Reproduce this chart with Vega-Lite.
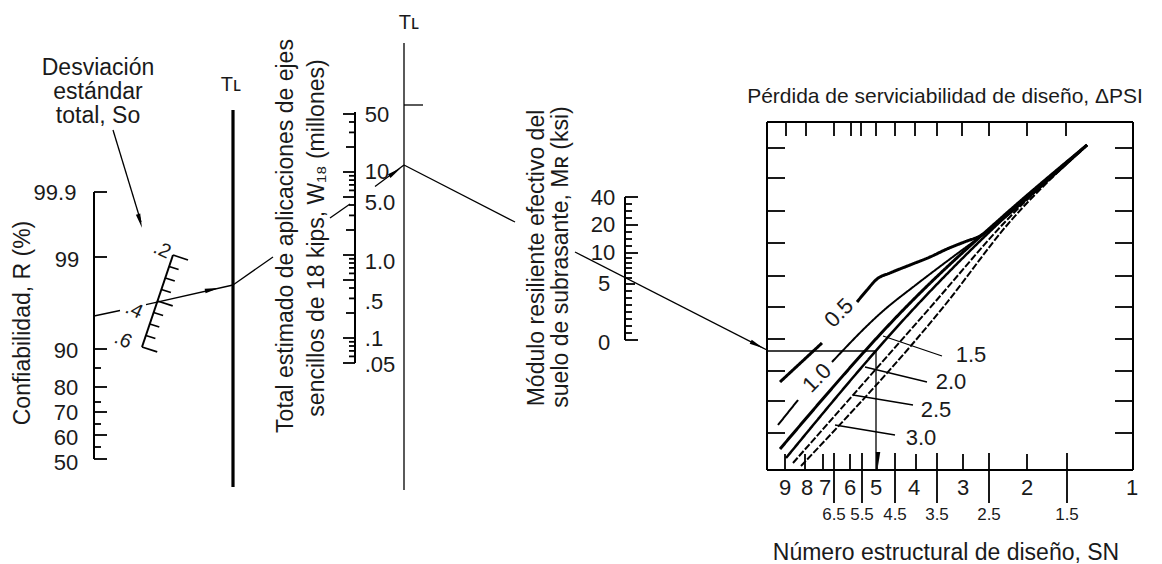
{
"$schema": "https://vega.github.io/schema/vega-lite/v6.json",
"width": 1162, "height": 564, "padding": 0, "autosize": "none", "background": "white",
"config": {"view": {"stroke": null}, "text": {"font": "Liberation Sans", "color": "#1a1a1a"}},
"datasets": {
"segs": [
{"k":"heavy","x":233,"y":110,"x2":233,"y2":487},
{"k":"axis","x":94,"y":192,"x2":94,"y2":459},
{"k":"tick","x":94,"y":192,"x2":107,"y2":192},
{"k":"tick","x":94,"y":257,"x2":107,"y2":257},
{"k":"tick","x":94,"y":349,"x2":107,"y2":349},
{"k":"tick","x":94,"y":368,"x2":101,"y2":368},
{"k":"tick","x":94,"y":387,"x2":107,"y2":387},
{"k":"tick","x":94,"y":402,"x2":101,"y2":402},
{"k":"tick","x":94,"y":412,"x2":107,"y2":412},
{"k":"tick","x":94,"y":424,"x2":101,"y2":424},
{"k":"tick","x":94,"y":435,"x2":107,"y2":435},
{"k":"tick","x":94,"y":447,"x2":101,"y2":447},
{"k":"tick","x":94,"y":459,"x2":107,"y2":459},
{"k":"axis","x":173,"y":255,"x2":142,"y2":347},
{"k":"tick","x":173,"y":255,"x2":188,"y2":260},
{"k":"tick","x":169.1,"y":266.5,"x2":178.6,"y2":269.5},
{"k":"tick","x":165.3,"y":278,"x2":174.8,"y2":281},
{"k":"tick","x":161.4,"y":289.5,"x2":170.9,"y2":292.5},
{"k":"tick","x":157.5,"y":301,"x2":172.7,"y2":305.8},
{"k":"tick","x":153.6,"y":312.5,"x2":163.1,"y2":315.5},
{"k":"tick","x":149.8,"y":324,"x2":159.3,"y2":327},
{"k":"tick","x":145.9,"y":335.5,"x2":155.4,"y2":338.5},
{"k":"tick","x":142,"y":347,"x2":157.2,"y2":351.8},
{"k":"axis","x":355,"y":112,"x2":355,"y2":363},
{"k":"tick","x":343,"y":114,"x2":355,"y2":114},
{"k":"tick","x":349,"y":122,"x2":355,"y2":122},
{"k":"tick","x":349,"y":132.4,"x2":355,"y2":132.4},
{"k":"tick","x":346,"y":147,"x2":355,"y2":147},
{"k":"tick","x":343,"y":172,"x2":355,"y2":172},
{"k":"tick","x":349,"y":175.8,"x2":355,"y2":175.8},
{"k":"tick","x":349,"y":180.1,"x2":355,"y2":180.1},
{"k":"tick","x":349,"y":184.9,"x2":355,"y2":184.9},
{"k":"tick","x":349,"y":190.4,"x2":355,"y2":190.4},
{"k":"tick","x":343,"y":197,"x2":355,"y2":197},
{"k":"tick","x":349,"y":205,"x2":355,"y2":205},
{"k":"tick","x":349,"y":215.4,"x2":355,"y2":215.4},
{"k":"tick","x":346,"y":230,"x2":355,"y2":230},
{"k":"tick","x":343,"y":255,"x2":355,"y2":255},
{"k":"tick","x":349,"y":258.8,"x2":355,"y2":258.8},
{"k":"tick","x":349,"y":263,"x2":355,"y2":263},
{"k":"tick","x":349,"y":267.9,"x2":355,"y2":267.9},
{"k":"tick","x":349,"y":273.4,"x2":355,"y2":273.4},
{"k":"tick","x":343,"y":280,"x2":355,"y2":280},
{"k":"tick","x":349,"y":288,"x2":355,"y2":288},
{"k":"tick","x":349,"y":298.4,"x2":355,"y2":298.4},
{"k":"tick","x":346,"y":313,"x2":355,"y2":313},
{"k":"tick","x":343,"y":338,"x2":355,"y2":338},
{"k":"tick","x":349,"y":341.8,"x2":355,"y2":341.8},
{"k":"tick","x":349,"y":346,"x2":355,"y2":346},
{"k":"tick","x":349,"y":350.9,"x2":355,"y2":350.9},
{"k":"tick","x":349,"y":356.4,"x2":355,"y2":356.4},
{"k":"tick","x":343,"y":363,"x2":355,"y2":363},
{"k":"link","x":404,"y":43,"x2":404,"y2":490},
{"k":"link","x":404,"y":105,"x2":423,"y2":105},
{"k":"axis","x":625,"y":197,"x2":625,"y2":340},
{"k":"tick","x":625,"y":197,"x2":638,"y2":197},
{"k":"tick","x":625,"y":204,"x2":632,"y2":204},
{"k":"tick","x":625,"y":211,"x2":632,"y2":211},
{"k":"tick","x":625,"y":218,"x2":632,"y2":218},
{"k":"tick","x":625,"y":225,"x2":638,"y2":225},
{"k":"tick","x":625,"y":232,"x2":632,"y2":232},
{"k":"tick","x":625,"y":239,"x2":632,"y2":239},
{"k":"tick","x":625,"y":246,"x2":632,"y2":246},
{"k":"tick","x":625,"y":253,"x2":638,"y2":253},
{"k":"tick","x":625,"y":258,"x2":632,"y2":258},
{"k":"tick","x":625,"y":263,"x2":632,"y2":263},
{"k":"tick","x":625,"y":268,"x2":632,"y2":268},
{"k":"tick","x":625,"y":273,"x2":632,"y2":273},
{"k":"tick","x":625,"y":278,"x2":632,"y2":278},
{"k":"tick","x":625,"y":284,"x2":635,"y2":284},
{"k":"tick","x":625,"y":291,"x2":632,"y2":291},
{"k":"tick","x":625,"y":298,"x2":632,"y2":298},
{"k":"tick","x":625,"y":305,"x2":632,"y2":305},
{"k":"tick","x":625,"y":312,"x2":632,"y2":312},
{"k":"tick","x":625,"y":319,"x2":632,"y2":319},
{"k":"tick","x":625,"y":326,"x2":632,"y2":326},
{"k":"tick","x":625,"y":333,"x2":632,"y2":333},
{"k":"tick","x":625,"y":340,"x2":638,"y2":340},
{"k":"axis","x":767,"y":122,"x2":1133,"y2":122},
{"k":"axis","x":1133,"y":122,"x2":1133,"y2":470},
{"k":"axis","x":767,"y":470,"x2":1133,"y2":470},
{"k":"axis","x":767,"y":122,"x2":767,"y2":470},
{"k":"tick","x":786,"y":122,"x2":786,"y2":136},
{"k":"tick","x":806,"y":122,"x2":806,"y2":136},
{"k":"tick","x":834,"y":122,"x2":834,"y2":136},
{"k":"tick","x":851,"y":122,"x2":851,"y2":136},
{"k":"tick","x":861,"y":122,"x2":861,"y2":136},
{"k":"tick","x":876,"y":122,"x2":876,"y2":136},
{"k":"tick","x":895,"y":122,"x2":895,"y2":136},
{"k":"tick","x":915,"y":122,"x2":915,"y2":136},
{"k":"tick","x":937,"y":122,"x2":937,"y2":136},
{"k":"tick","x":962,"y":122,"x2":962,"y2":136},
{"k":"tick","x":989,"y":122,"x2":989,"y2":136},
{"k":"tick","x":1027,"y":122,"x2":1027,"y2":136},
{"k":"tick","x":1066,"y":122,"x2":1066,"y2":136},
{"k":"tick","x":785,"y":470,"x2":785,"y2":454},
{"k":"tick","x":805,"y":470,"x2":805,"y2":454},
{"k":"tick","x":823,"y":470,"x2":823,"y2":454},
{"k":"tick","x":850,"y":470,"x2":850,"y2":454},
{"k":"tick","x":877,"y":470,"x2":877,"y2":454},
{"k":"tick","x":916,"y":470,"x2":916,"y2":454},
{"k":"tick","x":963,"y":470,"x2":963,"y2":454},
{"k":"tick","x":1027,"y":470,"x2":1027,"y2":454},
{"k":"tick","x":834,"y":453,"x2":834,"y2":503},
{"k":"tick","x":862,"y":453,"x2":862,"y2":503},
{"k":"tick","x":895,"y":453,"x2":895,"y2":503},
{"k":"tick","x":937,"y":453,"x2":937,"y2":503},
{"k":"tick","x":989,"y":453,"x2":989,"y2":503},
{"k":"tick","x":1067,"y":453,"x2":1067,"y2":503},
{"k":"tick","x":767,"y":148,"x2":785,"y2":148},
{"k":"tick","x":767,"y":178,"x2":785,"y2":178},
{"k":"tick","x":767,"y":211,"x2":785,"y2":211},
{"k":"tick","x":767,"y":243,"x2":785,"y2":243},
{"k":"tick","x":767,"y":276,"x2":785,"y2":276},
{"k":"tick","x":767,"y":307,"x2":785,"y2":307},
{"k":"tick","x":767,"y":339,"x2":785,"y2":339},
{"k":"tick","x":767,"y":371,"x2":785,"y2":371},
{"k":"tick","x":767,"y":401,"x2":785,"y2":401},
{"k":"tick","x":767,"y":433,"x2":785,"y2":433},
{"k":"tick","x":1115,"y":148,"x2":1133,"y2":148},
{"k":"tick","x":1115,"y":178,"x2":1133,"y2":178},
{"k":"tick","x":1115,"y":211,"x2":1133,"y2":211},
{"k":"tick","x":1115,"y":243,"x2":1133,"y2":243},
{"k":"tick","x":1115,"y":276,"x2":1133,"y2":276},
{"k":"tick","x":1115,"y":307,"x2":1133,"y2":307},
{"k":"tick","x":1115,"y":339,"x2":1133,"y2":339},
{"k":"tick","x":1115,"y":371,"x2":1133,"y2":371},
{"k":"tick","x":1115,"y":401,"x2":1133,"y2":401},
{"k":"tick","x":1115,"y":433,"x2":1133,"y2":433},
{"k":"link","x":113,"y":130,"x2":141,"y2":222},
{"k":"link","x":94,"y":316,"x2":120,"y2":310.5},
{"k":"link","x":146,"y":304.7,"x2":233,"y2":285},
{"k":"link","x":233,"y":285,"x2":273,"y2":257},
{"k":"link","x":330,"y":218,"x2":350,"y2":204},
{"k":"link","x":375,"y":186.5,"x2":404,"y2":165},
{"k":"link","x":404,"y":165,"x2":515,"y2":222},
{"k":"link","x":575,"y":252,"x2":767,"y2":350},
{"k":"link","x":767,"y":351,"x2":876,"y2":351},
{"k":"link","x":876,"y":351,"x2":876,"y2":470},
{"k":"link","x":883,"y":336,"x2":942,"y2":356},
{"k":"link","x":865,"y":367,"x2":927,"y2":382},
{"k":"link","x":853,"y":395,"x2":913,"y2":405},
{"k":"link","x":835,"y":425,"x2":895,"y2":435}
],
"curves": [
{"id":"p05a","o":1,"x":780,"y":382},{"id":"p05a","o":2,"x":822,"y":343},
{"id":"p05b","o":1,"x":857,"y":302},{"id":"p05b","o":2,"x":867,"y":290},{"id":"p05b","o":3,"x":877,"y":279},{"id":"p05b","o":4,"x":890,"y":273},{"id":"p05b","o":5,"x":910,"y":265},{"id":"p05b","o":6,"x":930,"y":257},{"id":"p05b","o":7,"x":947,"y":249},{"id":"p05b","o":8,"x":967,"y":241},{"id":"p05b","o":9,"x":980,"y":236},{"id":"p05b","o":10,"x":990,"y":229},{"id":"p05b","o":11,"x":1000,"y":221},{"id":"p05b","o":12,"x":1087,"y":145},
{"id":"p10a","o":1,"x":778,"y":425},{"id":"p10a","o":2,"x":798,"y":400},
{"id":"p10b","o":1,"x":832,"y":362},{"id":"p10b","o":2,"x":883,"y":311},{"id":"p10b","o":3,"x":917,"y":284},{"id":"p10b","o":4,"x":950,"y":259},{"id":"p10b","o":5,"x":985,"y":233},{"id":"p10b","o":6,"x":1087,"y":145},
{"id":"p15","o":1,"x":780,"y":449},{"id":"p15","o":2,"x":913,"y":300},{"id":"p15","o":3,"x":1000,"y":219},{"id":"p15","o":4,"x":1087,"y":145},
{"id":"p20","o":1,"x":786,"y":458},{"id":"p20","o":2,"x":920,"y":302},{"id":"p20","o":3,"x":1002,"y":220},{"id":"p20","o":4,"x":1087,"y":145},
{"id":"p25","o":1,"x":793,"y":463},{"id":"p25","o":2,"x":935,"y":302},{"id":"p25","o":3,"x":1005,"y":222},{"id":"p25","o":4,"x":1087,"y":145},
{"id":"p30","o":1,"x":801,"y":466},{"id":"p30","o":2,"x":945,"y":305},{"id":"p30","o":3,"x":1008,"y":224},{"id":"p30","o":4,"x":1087,"y":145}
],
"arrows": [
{"x":140,"y":221,"a":164},
{"x":212,"y":289.5,"a":78},
{"x":395,"y":172,"a":55},
{"x":757,"y":345,"a":117},
{"x":878,"y":459,"a":180}
],
"texts": [
{"g":"num","t":"99.9","x":55,"y":193},{"g":"num","t":"99","x":67,"y":260},{"g":"num","t":"90","x":66,"y":351},{"g":"num","t":"80","x":66,"y":388},{"g":"num","t":"70","x":66,"y":413},{"g":"num","t":"60","x":66,"y":438},{"g":"num","t":"50","x":66,"y":463},
{"g":"num","t":"50","x":377,"y":115},{"g":"num","t":"10","x":377,"y":172},{"g":"num","t":"5.0","x":380,"y":203},{"g":"num","t":"1.0","x":380,"y":262},{"g":"num","t":".5","x":374,"y":302},{"g":"num","t":".1","x":374,"y":339},{"g":"num","t":".05","x":380,"y":365},
{"g":"num","t":"40","x":603,"y":198},{"g":"num","t":"20","x":603,"y":225},{"g":"num","t":"10","x":603,"y":253},{"g":"num","t":"5","x":604,"y":284},{"g":"num","t":"0","x":604,"y":343},
{"g":"num","t":"9","x":785,"y":488},{"g":"num","t":"8","x":807,"y":488},{"g":"num","t":"7","x":825,"y":488},{"g":"num","t":"6","x":850,"y":488},{"g":"num","t":"5","x":876,"y":488},{"g":"num","t":"4","x":914,"y":488},{"g":"num","t":"3","x":963,"y":488},{"g":"num","t":"2","x":1027,"y":488},{"g":"num","t":"1","x":1132,"y":488},
{"g":"num","t":"1.5","x":971,"y":355},{"g":"num","t":"2.0","x":951,"y":382},{"g":"num","t":"2.5","x":936,"y":410},{"g":"num","t":"3.0","x":921,"y":438},
{"g":"small","t":"6.5","x":834,"y":515},{"g":"small","t":"5.5","x":862,"y":515},{"g":"small","t":"4.5","x":895,"y":515},{"g":"small","t":"3.5","x":937,"y":515},{"g":"small","t":"2.5","x":989,"y":515},{"g":"small","t":"1.5","x":1067,"y":515},
{"g":"title2","t":"Desviación","x":98,"y":68},{"g":"title2","t":"estándar","x":98,"y":92},{"g":"title2","t":"total, So","x":98,"y":116},
{"g":"title","t":"Pérdida de serviciabilidad de diseño, ΔPSI","x":945,"y":97},
{"g":"title2","t":"Número estructural de diseño, SN","x":946,"y":553},
{"g":"tl","t":"Tʟ","x":231,"y":85},{"g":"tl","t":"Tʟ","x":409,"y":23},
{"g":"rot","t":"Confiabilidad, R (%)","x":23,"y":323},
{"g":"rot","t":"Total estimado de aplicaciones de ejes","x":286,"y":236},
{"g":"rot","t":"sencillos de 18 kips, W₁₈ (millones)","x":317,"y":238},
{"g":"rot","t":"Módulo resiliente efectivo del","x":537,"y":258},
{"g":"rot","t":"suelo de subrasante, Mʀ (ksi)","x":561,"y":257},
{"g":"diag","t":"0.5","x":839,"y":313},{"g":"diag","t":"1.0","x":817,"y":378},
{"g":"so","t":".2","x":162,"y":250},{"g":"so","t":".4","x":134,"y":310},{"g":"so","t":".6","x":123,"y":340}
]
},
"encoding": {
"x": {"field":"x","type":"quantitative","scale":{"domain":[0,1162],"nice":false,"zero":false},"axis":null},
"y": {"field":"y","type":"quantitative","scale":{"domain":[0,564],"nice":false,"zero":false,"reverse":true},"axis":null}
},
"layer": [
{"data":{"name":"segs"},"transform":[{"filter":"datum.k==='heavy'"}],"mark":{"type":"rule","color":"black","strokeWidth":3.2},"encoding":{"x2":{"field":"x2"},"y2":{"field":"y2"}}},
{"data":{"name":"segs"},"transform":[{"filter":"datum.k==='axis'"}],"mark":{"type":"rule","color":"black","strokeWidth":2},"encoding":{"x2":{"field":"x2"},"y2":{"field":"y2"}}},
{"data":{"name":"segs"},"transform":[{"filter":"datum.k==='tick'"}],"mark":{"type":"rule","color":"black","strokeWidth":1.8},"encoding":{"x2":{"field":"x2"},"y2":{"field":"y2"}}},
{"data":{"name":"segs"},"transform":[{"filter":"datum.k==='link'"}],"mark":{"type":"rule","color":"black","strokeWidth":1.3},"encoding":{"x2":{"field":"x2"},"y2":{"field":"y2"}}},
{"data":{"name":"curves"},"mark":{"type":"line","color":"black","interpolate":"monotone"},
 "encoding":{"detail":{"field":"id"},"order":{"field":"o","type":"quantitative"},
 "strokeWidth":{"field":"id","type":"nominal","scale":{"type":"ordinal","domain":["p05a","p05b","p10a","p10b","p15","p20","p25","p30"],"range":[3,3,2,2,3,2.5,2,2]},"legend":null},
 "strokeDash":{"field":"id","type":"nominal","scale":{"domain":["p05a","p05b","p10a","p10b","p15","p20","p25","p30"],"range":[[1,0],[1,0],[1,0],[1,0],[1,0],[1,0],[7,2],[7,2]]},"legend":null}}},
{"data":{"name":"arrows"},"mark":{"type":"point","filled":true,"color":"black","opacity":1,"size":200,"shape":"M0,-1L0.32,1L-0.32,1Z"},
 "encoding":{"angle":{"field":"a","type":"quantitative","scale":null}}},
{"data":{"name":"texts"},"transform":[{"filter":"datum.g==='num'"}],"mark":{"type":"text","fontSize":22,"align":"center","baseline":"middle"},"encoding":{"text":{"field":"t"}}},
{"data":{"name":"texts"},"transform":[{"filter":"datum.g==='small'"}],"mark":{"type":"text","fontSize":17,"align":"center","baseline":"middle"},"encoding":{"text":{"field":"t"}}},
{"data":{"name":"texts"},"transform":[{"filter":"datum.g==='title'"}],"mark":{"type":"text","fontSize":21,"align":"center","baseline":"middle"},"encoding":{"text":{"field":"t"}}},
{"data":{"name":"texts"},"transform":[{"filter":"datum.g==='title2'"}],"mark":{"type":"text","fontSize":23,"align":"center","baseline":"middle"},"encoding":{"text":{"field":"t"}}},
{"data":{"name":"texts"},"transform":[{"filter":"datum.g==='tl'"}],"mark":{"type":"text","fontSize":20,"align":"center","baseline":"middle"},"encoding":{"text":{"field":"t"}}},
{"data":{"name":"texts"},"transform":[{"filter":"datum.g==='rot'"}],"mark":{"type":"text","fontSize":23,"align":"center","baseline":"middle","angle":270},"encoding":{"text":{"field":"t"}}},
{"data":{"name":"texts"},"transform":[{"filter":"datum.g==='diag'"}],"mark":{"type":"text","fontSize":22,"align":"center","baseline":"middle","angle":315},"encoding":{"text":{"field":"t"}}},
{"data":{"name":"texts"},"transform":[{"filter":"datum.g==='so'"}],"mark":{"type":"text","fontSize":20,"align":"center","baseline":"middle","angle":25},"encoding":{"text":{"field":"t"}}}
]
}
